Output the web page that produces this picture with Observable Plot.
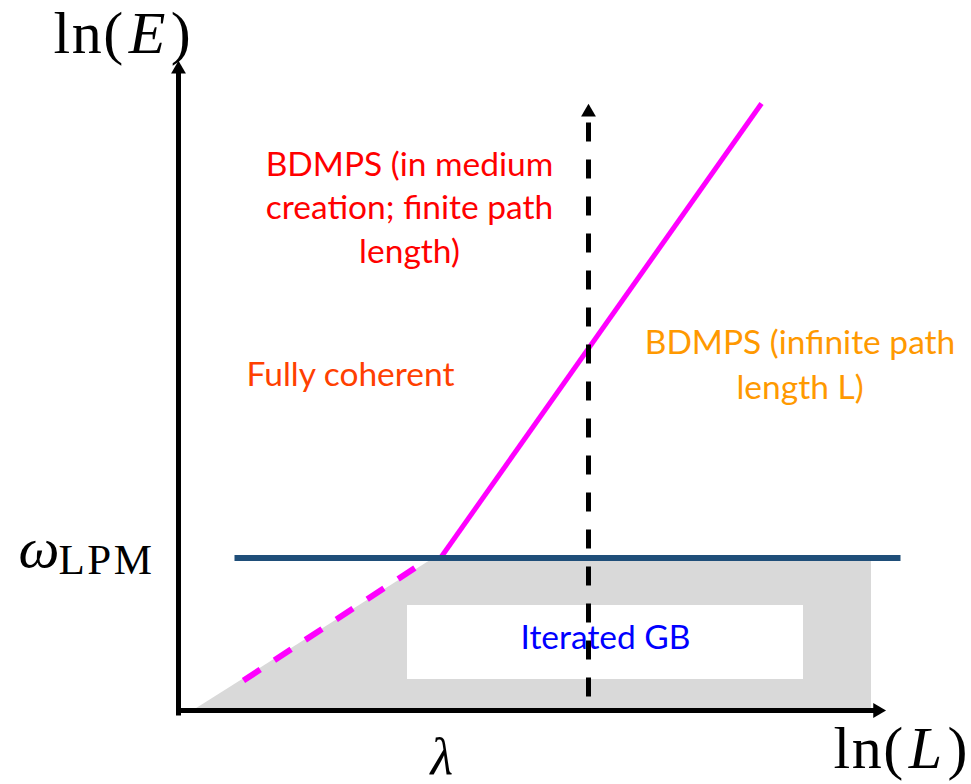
<!DOCTYPE html>
<html><head><meta charset="utf-8">
<script src="https://cdn.jsdelivr.net/npm/d3@7"></script>
<script src="https://cdn.jsdelivr.net/npm/@observablehq/plot@0.6"></script>
<style>body{margin:0;background:#fff} svg{display:block}</style>
</head><body><div id="chart"></div>
<script>
// Schematic coordinates: x = ln(L) axis units, y = ln(E) axis units (origin at the axes corner)
const axisLines = [
  {x1: -0.02, y1: 0, x2: 6.96, y2: 0},
  {x1: 0, y1: -0.05, x2: 0, y2: 6.40}
];
const arrowHeads = [
  {x: 6.99, y: 0, rotate: 90},
  {x: 0, y: 6.413, rotate: 0},
  {x: 4.10, y: 5.983, rotate: 0}
];
const grayRegion = [
  {x: 0.15, lo: 0, hi: 0},
  {x: 2.52, lo: 0, hi: 1.50},
  {x: 6.93, lo: 0, hi: 1.50}
];
const whiteBox = [{x1: 2.29, x2: 6.25, y1: 0.31, y2: 1.05}];
const omegaLPM = [{x1: 0.56, x2: 7.22, y: 1.525}];
const magentaSolid = [{x1: 2.62, y1: 1.525, x2: 5.83, y2: 6.07}];
const magentaDashed = [{x1: 0.65, y1: 0.30, x2: 2.37, y2: 1.43}];
const verticalDashed = [{x: 4.10, y1: 0.14, y2: 5.88}];

const redLines = ["BDMPS (in medium", "creation; finite path", "length)"];
const redY = [5.35, 4.92, 4.48];
const orangeLines = ["BDMPS (infinite path", "length L)"];
const orangeY = [3.57, 3.12];
const labels = [
  {text: "Fully coherent", x: 1.72, y: 3.25, color: "#ff4000"},
  {text: "Iterated GB", x: 4.27, y: 0.62, color: "#0000ff"}
];
const mathLabels = [
  {text: "ln(E)", x: -1.25, y: 6.58},
  {text: "ln(L)", x: 6.55, y: -0.57}
];
const lambdaLabel = [{text: "λ", x: 2.52, y: -0.63}];
const omegaLabel = [{text: "ω", x: -1.60, y: 1.44}];
const lpmLabel = [{text: "LPM", x: -1.20, y: 1.37}];

const redData = redLines.map((t, i) => ({text: t, x: 2.31, y: redY[i]}));
const orangeData = orangeLines.map((t, i) => ({text: t, x: 6.215, y: orangeY[i]}));
const sans = "Lato, 'Open Sans', sans-serif";
const serif = "'Liberation Serif', 'DejaVu Serif', serif";

const plot = Plot.plot({
  width: 971, height: 784, margin: 0,
  x: {domain: [-1.78, 7.93], range: [0, 971], axis: null},
  y: {domain: [-0.74, 7.10], range: [784, 0], axis: null},
  style: {background: "white"},
  marks: [
    Plot.area(grayRegion, {x1: "x", y1: "lo", y2: "hi", fill: "#d9d9d9", curve: "linear"}),
    Plot.rect(whiteBox, {x1: "x1", x2: "x2", y1: "y1", y2: "y2", fill: "white"}),
    Plot.link(magentaDashed, {x1: "x1", y1: "y1", x2: "x2", y2: "y2", stroke: "#ff00ff", strokeWidth: 6, strokeDasharray: "20,17", strokeLinecap: "butt"}),
    Plot.link(magentaSolid, {x1: "x1", y1: "y1", x2: "x2", y2: "y2", stroke: "#ff00ff", strokeWidth: 5, strokeLinecap: "butt"}),
    Plot.link(omegaLPM, {x1: "x1", x2: "x2", y1: "y", y2: "y", stroke: "#1f4e79", strokeWidth: 6, strokeLinecap: "butt"}),
    Plot.text(labels, {x: "x", y: "y", text: "text", fill: "color", fontSize: 33.5, fontFamily: sans, lineAnchor: "bottom"}),
    Plot.link(verticalDashed, {x1: "x", x2: "x", y1: "y1", y2: "y2", stroke: "black", strokeWidth: 5, strokeDasharray: "19,18", strokeLinecap: "butt"}),
    Plot.link(axisLines, {x1: "x1", y1: "y1", x2: "x2", y2: "y2", stroke: "black", strokeWidth: 5, strokeLinecap: "butt"}),
    Plot.dot(arrowHeads, {x: "x", y: "y", rotate: "rotate", symbol: "triangle", r: 5.5, fill: "black", stroke: "none"}),
    Plot.text(redData, {x: "x", y: "y", text: "text", fill: "#ff0000", fontSize: 33.5, fontFamily: sans, lineAnchor: "bottom"}),
    Plot.text(orangeData, {x: "x", y: "y", text: "text", fill: "#ff9900", fontSize: 33.5, fontFamily: sans, lineAnchor: "bottom"}),
    Plot.text(mathLabels, {x: "x", y: "y", text: "text", fontSize: 60, fontFamily: serif, textAnchor: "start", lineAnchor: "bottom", fill: "black"}),
    Plot.text(lambdaLabel, {x: "x", y: "y", text: "text", fontSize: 52, fontFamily: serif, fontStyle: "italic", textAnchor: "start", lineAnchor: "bottom", fill: "black"}),
    Plot.text(omegaLabel, {x: "x", y: "y", text: "text", fontSize: 58, fontFamily: serif, fontStyle: "italic", textAnchor: "start", lineAnchor: "bottom", fill: "black"}),
    Plot.text(lpmLabel, {x: "x", y: "y", text: "text", fontSize: 43, fontFamily: serif, textAnchor: "start", lineAnchor: "bottom", fill: "black"})
  ]
});

// italic math variables inside ln(E), ln(L); wider math spacing
d3.select(plot).selectAll("text").each(function() {
  const t = this.textContent;
  const m = /^ln\((E|L)\)$/.exec(t);
  if (m) {
    const sel = d3.select(this);
    sel.text(null).attr("letter-spacing", "1.5px");
    sel.append("tspan").text("ln(");
    sel.append("tspan").attr("font-style", "italic").attr("dx", "4").text(m[1]);
    sel.append("tspan").attr("dx", "4").text(")");
  } else if (t === "LPM") {
    d3.select(this).attr("letter-spacing", "2.5px");
  }
});

document.getElementById("chart").appendChild(plot);
</script>
</body></html>
